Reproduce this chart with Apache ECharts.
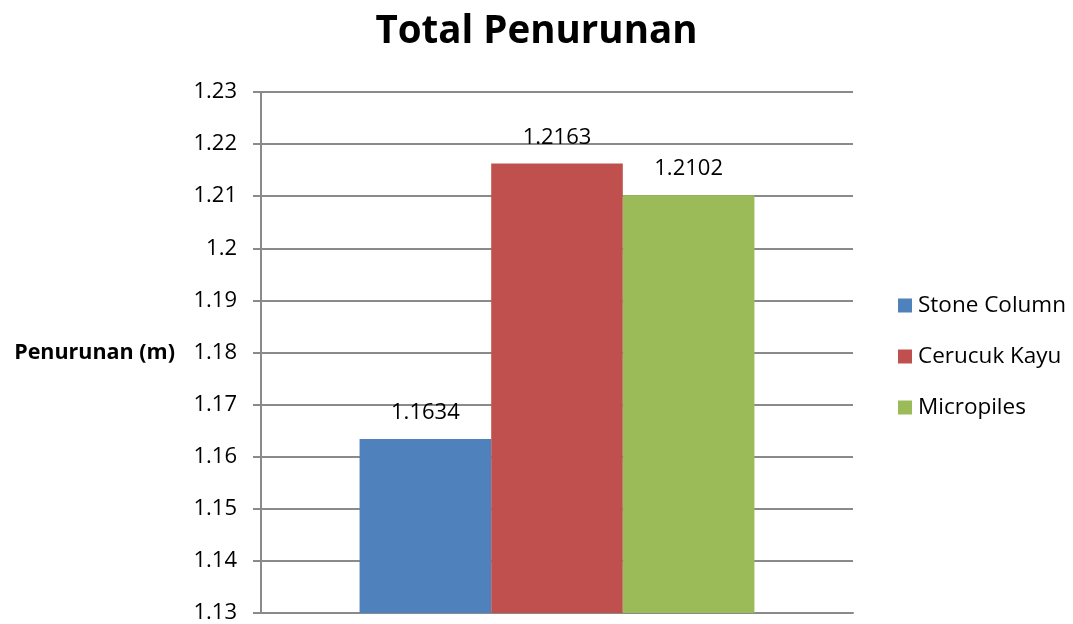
<!DOCTYPE html>
<html>
<head>
<meta charset="utf-8">
<title>Total Penurunan</title>
<script src="https://cdn.jsdelivr.net/npm/echarts@6/dist/echarts.min.js"></script>
<style>
  html, body { margin: 0; padding: 0; background: #fff; }
  #chart { width: 1073px; height: 624px; }
</style>
</head>
<body>
<div id="chart"></div>
<script>
// Data
const categories = ['Total'];
const seriesNames = ['Stone Column', 'Cerucuk Kayu', 'Micropiles'];
const seriesValues = [[1.1634], [1.2163], [1.2102]];
const seriesColors = ['#4F81BD', '#C0504D', '#9BBB59'];

const font = '"Open Sans", Lato, sans-serif';
const gridColor = '#8a8a8a';

const chart = echarts.init(document.getElementById('chart'));

const option = {
  animation: false,
  title: {
    text: 'Total Penurunan',
    left: 'center',
    top: 8,
    textStyle: { fontFamily: font, fontSize: 38.5, fontWeight: 'bold', color: '#000' }
  },
  legend: {
    orient: 'vertical',
    left: 893,
    top: 289,
    itemWidth: 14,
    itemHeight: 14,
    itemGap: 28,
    icon: 'rect',
    data: seriesNames,
    textStyle: { fontFamily: font, fontSize: 22.5, color: '#000', padding: [0, 0, 0, 1] }
  },
  grid: {
    left: 261,
    right: 220,
    top: 92,
    bottom: 11
  },
  xAxis: {
    type: 'category',
    data: categories,
    axisLine: { lineStyle: { color: gridColor, width: 2 } },
    axisTick: { show: false },
    axisLabel: { show: false }
  },
  yAxis: {
    type: 'value',
    min: 1.13,
    max: 1.23,
    interval: 0.01,
    name: 'Penurunan (m)',
    nameLocation: 'middle',
    nameRotate: 0,
    nameGap: 86,
    nameTextStyle: { fontFamily: font, fontSize: 21.5, fontWeight: 'bold', color: '#000' },
    axisLine: { show: true, lineStyle: { color: gridColor, width: 2 } },
    axisTick: { show: true, length: 8, lineStyle: { color: gridColor, width: 2 } },
    axisLabel: {
      margin: 24,
      fontFamily: font,
      fontSize: 22,
      color: '#000',
      formatter: v => String(parseFloat(v.toFixed(2)))
    },
    splitLine: { lineStyle: { color: gridColor, width: 2 } }
  },
  series: seriesNames.map((name, i) => ({
    name: name,
    type: 'bar',
    data: seriesValues[i],
    barGap: '0%',
    barCategoryGap: '33.3%',
    itemStyle: { color: seriesColors[i] },
    label: {
      show: true,
      position: 'top',
      distance: 15,
      fontFamily: font,
      fontSize: 22,
      color: '#000',
      formatter: p => p.value.toFixed(4)
    }
  }))
};

chart.setOption(option);
</script>
</body>
</html>
